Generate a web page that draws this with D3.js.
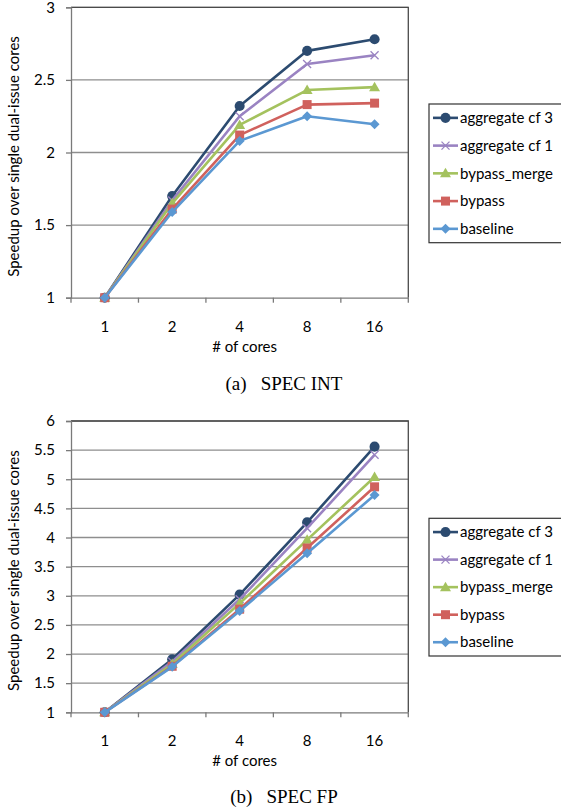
<!DOCTYPE html>
<html>
<head>
<meta charset="utf-8">
<script src="https://cdnjs.cloudflare.com/ajax/libs/d3/7.8.5/d3.min.js"></script>
<style>
    html, body { margin: 0; padding: 0; background: #fff; }
    svg text { font-family: Lato, "Open Sans", sans-serif; fill: #000; }
    .caption { font-family: "Liberation Serif", "Times New Roman", serif; }
</style>
</head>
<body>
<div id="chart"></div>
<script>
// datos
const cores = ["1", "2", "4", "8", "16"];
const seriesNames = ["aggregate cf 3", "aggregate cf 1", "bypass_merge", "bypass", "baseline"];

const intCf3 = [1, 1.70, 2.32, 2.70, 2.78];
const intCf1 = [1, 1.67, 2.25, 2.61, 2.67];
const intMerge = [1, 1.65, 2.19, 2.43, 2.45];
const intBypass = [1, 1.61, 2.12, 2.33, 2.34];
const intBase = [1, 1.59, 2.08, 2.25, 2.195];

const fpCf3 = [1, 1.91, 3.02, 4.26, 5.56];
const fpCf1 = [1, 1.87, 2.94, 4.16, 5.42];
const fpMerge = [1, 1.83, 2.87, 3.96, 5.04];
const fpBypass = [1, 1.79, 2.77, 3.82, 4.87];
const fpBase = [1, 1.78, 2.74, 3.73, 4.73];

const intTicks = [1, 1.5, 2, 2.5, 3];
const fpTicks = [1, 1.5, 2, 2.5, 3, 3.5, 4, 4.5, 5, 5.5, 6];

const colors = ["#2c4b70", "#9a83c2", "#a4c25e", "#d0615d", "#5b98d2"];
const markers = ["circle", "cross", "triangle", "square", "diamond"];

const width = 561;
const height = 810;
const fontSize = "15px";

const svg = d3.select("#chart").append("svg")
    .attr("width", width)
    .attr("height", height);

svg.append("rect").attr("width", width).attr("height", height).attr("fill", "#fff");

drawPanel({
    top: 7.3, bottom: 297.7,
    series: [intCf3, intCf1, intMerge, intBypass, intBase],
    ticks: intTicks,
    legendTop: 104, legendBottom: 242.7,
    caption: "(a)", captionText: "SPEC INT",
    tickLabelY: 327, xTitleY: 347, captionY: 390
});

drawPanel({
    top: 421, bottom: 712.3,
    series: [fpCf3, fpCf1, fpMerge, fpBypass, fpBase],
    ticks: fpTicks,
    legendTop: 518.3, legendBottom: 656,
    caption: "(b)", captionText: "SPEC FP",
    tickLabelY: 741, xTitleY: 761, captionY: 803
});

function drawPanel(o) {
    const left = 71, right = 408.3;
    const g = svg.append("g");

    const x = d3.scaleBand().domain(cores).range([left, right]);
    const y = d3.scaleLinear()
        .domain([o.ticks[0], o.ticks[o.ticks.length - 1]])
        .range([o.bottom, o.top]);

    // gridlines
    g.append("g")
        .selectAll("line")
        .data(o.ticks.slice(1))
        .enter()
        .append("line")
        .attr("x1", left).attr("x2", right)
        .attr("y1", d => y(d)).attr("y2", d => y(d))
        .attr("stroke", "#8e8e8e")
        .attr("stroke-width", 1.3);

    // borde del área
    g.append("path")
        .attr("d", `M${left},${o.top}H${right}V${o.bottom}`)
        .attr("fill", "none")
        .attr("stroke", "#4a4a4a")
        .attr("stroke-width", 1.3);

    // eje y
    let yAxis = g.append("g")
        .attr("transform", `translate(${left},0)`)
        .call(d3.axisLeft(y).tickValues(o.ticks).tickSize(5).tickPadding(11).tickFormat(d3.format("")));
    yAxis.select(".domain").attr("stroke", "#7a7a7a").attr("stroke-width", 1.3);
    yAxis.selectAll(".tick line").attr("stroke", "#7a7a7a").attr("stroke-width", 1.3);
    yAxis.selectAll("text").style("font-size", fontSize).style("font-family", "Lato, sans-serif").attr("fill", "#000");

    // eje x
    let xAxis = g.append("g")
        .attr("transform", `translate(0,${o.bottom})`)
        .call(d3.axisBottom(x).tickSize(0).tickPadding(0));
    xAxis.select(".domain").attr("stroke", "#7a7a7a").attr("stroke-width", 1.3);
    xAxis.selectAll(".tick text")
        .attr("y", o.tickLabelY - o.bottom)
        .attr("dy", "0.35em")
        .style("font-size", fontSize)
        .style("font-family", "Lato, sans-serif")
        .attr("fill", "#000");

    // marcas entre categorías
    let bounds = cores.map(c => x(c)).concat([right]);
    g.append("g")
        .selectAll("line")
        .data(bounds)
        .enter()
        .append("line")
        .attr("x1", d => d).attr("x2", d => d)
        .attr("y1", o.bottom).attr("y2", o.bottom + 5)
        .attr("stroke", "#7a7a7a")
        .attr("stroke-width", 1.3);

    // títulos
    g.append("text")
        .attr("x", (left + right) / 2 + 5)
        .attr("y", o.xTitleY)
        .attr("dy", "0.35em")
        .attr("text-anchor", "middle")
        .style("font-size", fontSize)
        .text("# of cores");

    g.append("text")
        .attr("transform", `translate(13.5,${(o.top + o.bottom) / 2 + 4}) rotate(-90)`)
        .attr("text-anchor", "middle")
        .attr("dy", "0.35em")
        .style("font-size", fontSize)
        .text("Speedup over single dual-issue cores");

    let cap = g.append("text")
        .attr("class", "caption")
        .attr("x", 284)
        .attr("y", o.captionY)
        .attr("text-anchor", "middle")
        .style("font-size", "19px");
    cap.append("tspan").text(o.caption);
    cap.append("tspan").attr("dx", 14).text(o.captionText);

    // líneas
    const line = d3.line()
        .x((d, i) => x(cores[i]) + x.bandwidth() / 2)
        .y(d => y(d));

    o.series.forEach(function(values, s) {
        let sg = g.append("g");
        sg.append("path")
            .datum(values)
            .attr("d", line)
            .attr("fill", "none")
            .attr("stroke", colors[s])
            .attr("stroke-width", 2.6)
            .attr("stroke-linejoin", "round");

        sg.selectAll(".m")
            .data(values)
            .enter()
            .append("path")
            .attr("transform", (d, i) => `translate(${x(cores[i]) + x.bandwidth() / 2},${y(d)})`)
            .each(function() { drawMarker(d3.select(this), markers[s], colors[s]); });
    });

    // leyenda
    const lx = 429;
    let lg = g.append("g");
    lg.append("rect")
        .attr("x", lx).attr("y", o.legendTop)
        .attr("width", width - lx + 5).attr("height", o.legendBottom - o.legendTop)
        .attr("fill", "#fff")
        .attr("stroke", "#333")
        .attr("stroke-width", 1.2);

    let step = (o.legendBottom - o.legendTop) / 5;
    seriesNames.forEach(function(name, s) {
        let cy = o.legendTop + step * (s + 0.5);
        lg.append("line")
            .attr("x1", 433).attr("x2", 458)
            .attr("y1", cy).attr("y2", cy)
            .attr("stroke", colors[s])
            .attr("stroke-width", 2.6);
        let m = lg.append("path").attr("transform", `translate(445.5,${cy})`);
        drawMarker(m, markers[s], colors[s]);
        lg.append("text")
            .attr("x", 460)
            .attr("y", cy)
            .attr("dy", "0.35em")
            .style("font-size", fontSize)
            .text(name);
    });
}

function drawMarker(sel, type, color) {
    if (type === "circle") {
        sel.attr("d", d3.symbol(d3.symbolCircle, 80)()).attr("fill", color);
    } else if (type === "cross") {
        sel.attr("d", "M-4,-4L4,4M-4,4L4,-4").attr("fill", "none").attr("stroke", color).attr("stroke-width", 1.3);
    } else if (type === "triangle") {
        sel.attr("d", "M0,-5.5L5.5,4L-5.5,4Z").attr("fill", color);
    } else if (type === "square") {
        sel.attr("d", "M-4.5,-4.5H4.5V4.5H-4.5Z").attr("fill", color);
    } else {
        sel.attr("d", "M0,-5L5,0L0,5L-5,0Z").attr("fill", color);
    }
}
</script>
</body>
</html>
